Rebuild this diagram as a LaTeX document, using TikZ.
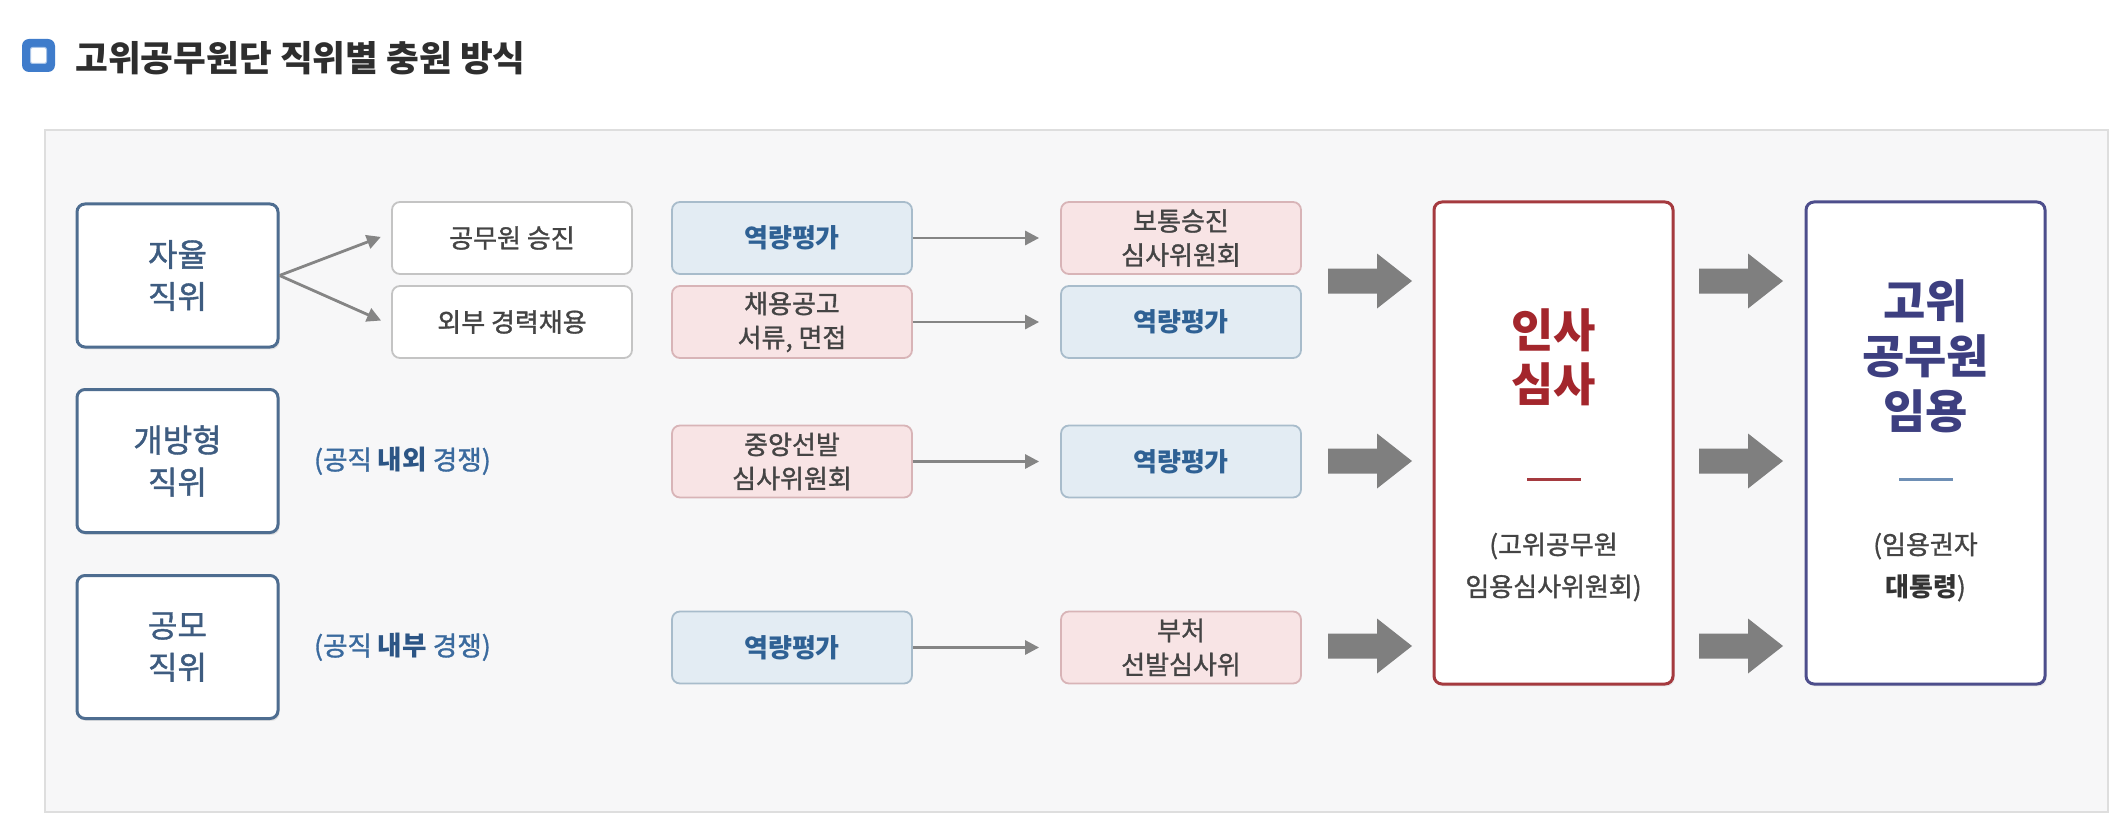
\documentclass[tikz,border=0pt]{standalone}
\usepackage{fontspec}
\setmainfont{Noto Sans CJK KR}
\newfontfamily\medfont{Noto Sans CJK KR}[FakeBold=1.2]
\usetikzlibrary{arrows.meta,shadows}
\definecolor{panelbg}{HTML}{F7F7F8}
\definecolor{panelbd}{HTML}{DEDEDE}
\definecolor{navybd}{HTML}{4E6D90}
\definecolor{navytx}{HTML}{3E5C80}
\definecolor{wbd}{HTML}{C4C4C4}
\definecolor{bluefill}{HTML}{E3ECF3}
\definecolor{bluebd}{HTML}{A8BCCB}
\definecolor{bluetx}{HTML}{2F6194}
\definecolor{pinkfill}{HTML}{F8E4E5}
\definecolor{pinkbd}{HTML}{D8B4B7}
\definecolor{greytx}{HTML}{444444}
\definecolor{redbd}{HTML}{A53A3F}
\definecolor{redtx}{HTML}{A3262C}
\definecolor{purbd}{HTML}{4D4E8C}
\definecolor{purtx}{HTML}{3D3F80}
\definecolor{arrgrey}{HTML}{7F7F7F}
\definecolor{thingrey}{HTML}{858585}
\definecolor{dashblue}{HTML}{6E8FB5}
\definecolor{labtx}{HTML}{3A6A9E}
\definecolor{labbold}{HTML}{2C5585}
\definecolor{iconblue}{HTML}{3F7CCB}
\tikzset{
  posbox/.style={draw=navybd, line width=1.5pt, fill=white, rounded corners=4pt,
    minimum width=100.5pt, minimum height=71.5pt, align=center, text=navytx,
    font=\medfont\fontsize{16}{21}\selectfont, inner sep=0pt,
    drop shadow={shadow xshift=0.8pt, shadow yshift=-1.2pt, opacity=0.18}},
  smallbox/.style={rounded corners=4pt, line width=0.9pt, minimum width=120pt,
    minimum height=36pt, align=center, font=\medfont\fontsize{13}{17}\selectfont, inner sep=0pt},
  wbox/.style={smallbox, draw=wbd, fill=white, text=greytx},
  bbox/.style={smallbox, draw=bluebd, fill=bluefill, text=bluetx,
    font=\fontsize{13}{17}\selectfont\bfseries},
  pbox/.style={smallbox, draw=pinkbd, fill=pinkfill, text=greytx},
  bigbox/.style={fill=white, line width=1.5pt, rounded corners=4pt,
    minimum width=119.5pt, minimum height=241pt,
    drop shadow={shadow xshift=0.8pt, shadow yshift=-1.2pt, opacity=0.12}},
  thinarr/.style={draw=thingrey, line width=1.4pt, -{Triangle[length=7pt,width=7pt]}},
  bigarrow/.pic={\fill[arrgrey] (0,-12.5) -- (49,-12.5) -- (49,-27.5) -- (84,0)
    -- (49,27.5) -- (49,12.5) -- (0,12.5) -- cycle;},
  paren/.style={align=center, text=greytx, font=\medfont\fontsize{13}{21}\selectfont},
  lab/.style={text=labtx, font=\medfont\fontsize{13.3}{15}\selectfont},
}
\begin{document}
\begin{tikzpicture}[x=0.5pt,y=-0.5pt]
\path[use as bounding box, fill=white] (0,0) rectangle (2128,834);
% title
\node[fill=iconblue, rounded corners=3.5pt, minimum size=16.5pt, inner sep=0pt] (icon) at (38.5,55.5) {};
\node[fill=white, draw=iconblue!45, line width=0.5pt, rounded corners=1pt, minimum size=8pt, inner sep=0pt] (iconin) at (icon.center) {};
\node[anchor=west, text=black!82, font=\fontsize{17.8}{20}\selectfont\bfseries, inner sep=0pt] (title) at (75,58) {고위공무원단 직위별 충원 방식};
% panel
\draw[draw=panelbd, fill=panelbg, line width=0.75pt] (45,130) rectangle (2108,812);
% left boxes
\node[posbox] (L1) at (177.5,275.5) {자율\\직위};
\node[posbox] (L2) at (177.5,461) {개방형\\직위};
\node[posbox] (L3) at (177.5,647) {공모\\직위};
% column 2
\node[wbox] (c2a) at (512,238) {공무원 승진};
\node[wbox] (c2b) at (512,322) {외부 경력채용};
\node[lab, anchor=west] (lab2) at (307,461) {(공직 \textcolor{labbold}{\normalfont\bfseries 내외} 경쟁)};
\node[lab, anchor=west] (lab3) at (307,647) {(공직 \textcolor{labbold}{\normalfont\bfseries 내부} 경쟁)};
% column 3
\node[bbox] (c3a) at (792,238) {역량평가};
\node[pbox] (c3b) at (792,322) {채용공고\\서류, 면접};
\node[pbox] (c3c) at (792,461.5) {중앙선발\\심사위원회};
\node[bbox] (c3d) at (792,647.5) {역량평가};
% column 4
\node[pbox] (c4a) at (1181,238) {보통승진\\심사위원회};
\node[bbox] (c4b) at (1181,322) {역량평가};
\node[bbox] (c4c) at (1181,461.5) {역량평가};
\node[pbox] (c4d) at (1181,647.5) {부처\\선발심사위};
% big boxes
\node[bigbox, draw=redbd] (R) at (1553.5,443) {};
\node[align=center, text=redtx, font=\fontsize{23}{27}\selectfont\bfseries] (Rt) at (1553.5,357) {인사\\심사};
\draw[draw=redbd, line width=1.5pt] (1527,479) -- (1581,479);
\node[paren] (Rp) at (1553.5,567) {(고위공무원\\임용심사위원회)};
\node[bigbox, draw=purbd] (P) at (1925.5,443) {};
\node[align=center, text=purtx, font=\fontsize{23}{27.5}\selectfont\bfseries] (Pt) at (1925.5,356) {고위\\공무원\\임용};
\draw[draw=dashblue, line width=1.5pt] (1899,479) -- (1953,479);
\node[paren] (Pp) at (1925.5,567) {(임용권자\\\textcolor{black!80}{\normalfont\bfseries 대통령})};
% thin arrows
\draw[thinarr, shorten >=5.5pt] (L1.east) -- ([yshift=2.5pt]c2a.west);
\draw[thinarr, shorten >=5.5pt] (L1.east) -- ([yshift=-1.5pt]c2b.west);
\draw[thinarr, shorten >=10.5pt] (c3a.east) -- (c4a.west);
\draw[thinarr, shorten >=10.5pt] (c3b.east) -- (c4b.west);
\draw[thinarr, shorten >=10.5pt] (c3c.east) -- (c4c.west);
\draw[thinarr, shorten >=10.5pt] (c3d.east) -- (c4d.west);
% big arrows
\pic (ba1) at (1328,281) {bigarrow};
\pic (ba2) at (1328,461) {bigarrow};
\pic (ba3) at (1328,646) {bigarrow};
\pic (bb1) at (1699,281) {bigarrow};
\pic (bb2) at (1699,461) {bigarrow};
\pic (bb3) at (1699,646) {bigarrow};
\end{tikzpicture}
\end{document}
